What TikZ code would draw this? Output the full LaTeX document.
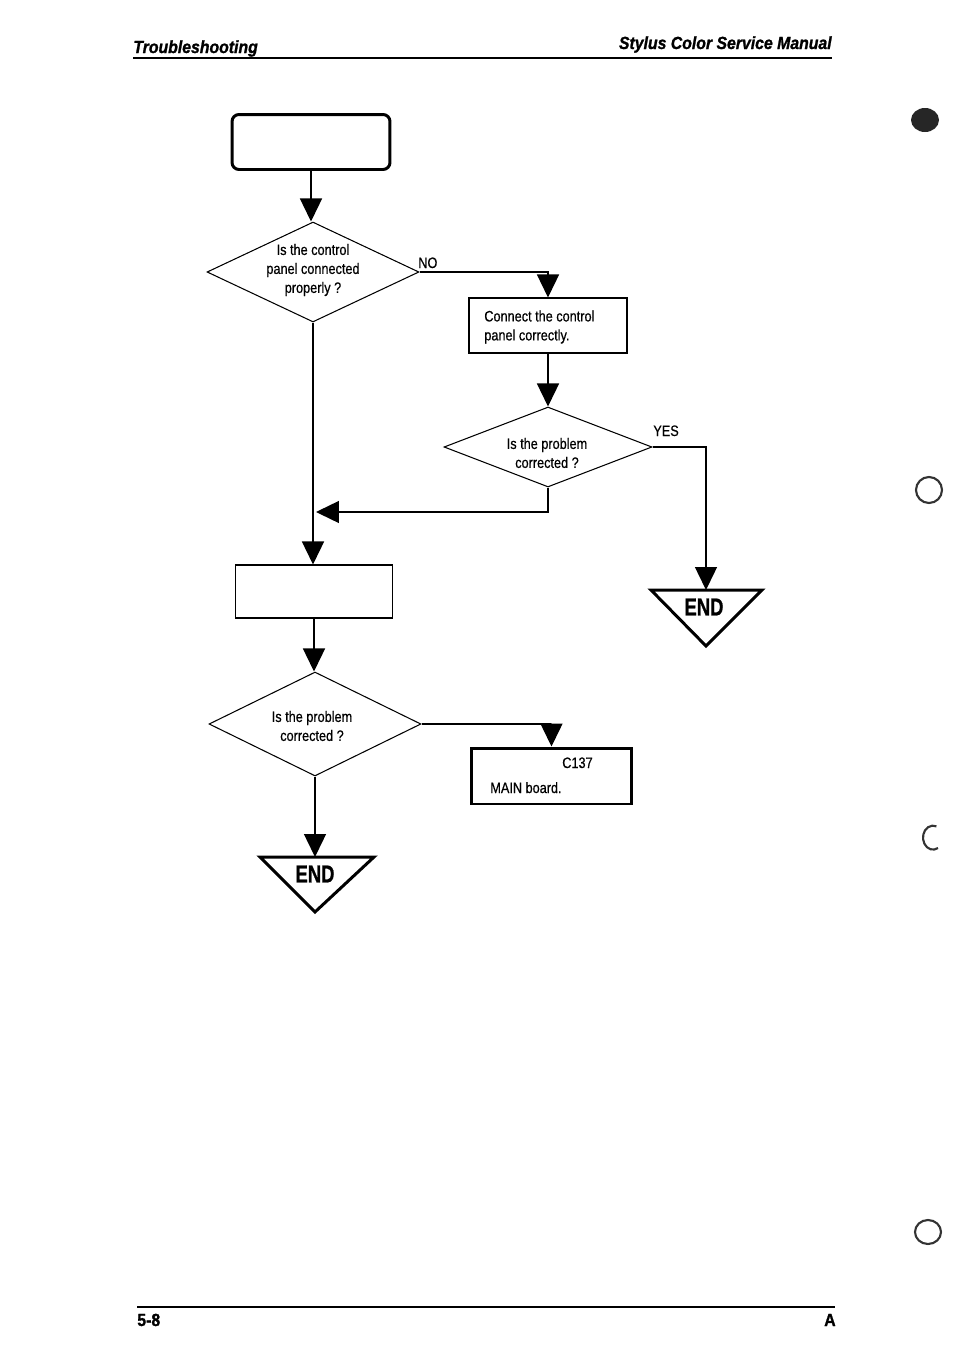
\documentclass[tikz,border=0pt]{standalone}
\usepackage{fontspec}
\setmainfont{Liberation Sans}
\newfontfamily\condf[FakeStretch=0.84,FakeBold=0.6]{Liberation Sans}
\newfontfamily\headf[FakeStretch=0.9,FakeBold=1.2,UprightFont=*,BoldFont=* Bold,ItalicFont=* Bold Italic]{Liberation Sans}
\newfontfamily\endf[FakeStretch=0.75,FakeBold=0.8]{Liberation Sans}
\usetikzlibrary{shapes.geometric,arrows.meta,calc}
\begin{document}
\begin{tikzpicture}[x=0.02cm,y=-0.02cm,
  conn/.style={line width=0.8pt},
  arr/.style={conn,-{Triangle[width=0.44cm,length=0.46cm]}},
  lbl/.style={font=\condf\fontsize{8.6}{10.8}\selectfont,inner sep=0pt,align=center},
  dia/.style={diamond,draw,line width=0.6pt,inner sep=0pt},
  thinbox/.style={draw,line width=0.6pt,inner sep=0pt},
  thickbox/.style={draw,line width=1.7pt,inner sep=0pt},
  endtri/.style={line width=1.7pt,line join=miter},
  endtxt/.style={font=\endf\bfseries\fontsize{14}{14}\selectfont,inner sep=0pt},
  hole/.style={line width=1.2pt,draw=black!80}
]
\useasboundingbox (0,0) rectangle (962,1356);
% header
\node[anchor=base west,inner sep=0pt,font=\headf\bfseries\itshape\fontsize{10}{12}\selectfont] (hl) at (133,53) {Troubleshooting};
\node[anchor=base east,inner sep=0pt,font=\headf\bfseries\itshape\fontsize{10}{12}\selectfont] (hr) at (832,49) {Stylus Color Service Manual};
\draw[line width=1.7pt] (133,58) -- (832,58);
% footer
\draw[line width=1.2pt] (137,1307) -- (835,1307);
\node[anchor=base west,inner sep=0pt,font=\headf\bfseries\fontsize{10}{12}\selectfont] (pg) at (137,1326) {5-8};
\node[anchor=base east,inner sep=0pt,font=\headf\bfseries\fontsize{10}{12}\selectfont] (rev) at (836,1326) {A};
% holes
\fill[black!85] (925,120) ellipse [x radius=14, y radius=12];
\draw[hole] (929,490) ellipse [x radius=13, y radius=13];
\draw[hole] (938,848) arc (60:290:10 and 12);
\draw[hole] (928,1232) ellipse [x radius=13, y radius=12];

% nodes
\node[thickbox,rounded corners=4pt,minimum width=3.16cm,minimum height=1.1cm] (start) at (311,142) {};
\node[dia,minimum width=4.24cm,minimum height=2.0cm] (d1) at (313,272) {};
\node[lbl] (d1t) at (313,270) {Is the control\\panel connected\\properly ?};
\node[thinbox,minimum width=3.16cm,minimum height=1.1cm] (b2) at (548,325.5) {};
\node[lbl,anchor=west,align=left] (b2t) at (484,327) {Connect the control\\panel correctly.};
\node[dia,minimum width=4.16cm,minimum height=1.6cm] (d2) at (548,447) {};
\node[lbl] (d2t) at (547,453) {Is the problem\\corrected ?};
\node[thinbox,minimum width=3.14cm,minimum height=1.06cm] (b3) at (314,591.5) {};
\node[dia,minimum width=4.24cm,minimum height=2.08cm] (d3) at (315,724) {};
\node[lbl] (d3t) at (312,726) {Is the problem\\corrected ?};
\node[thickbox,minimum width=3.22cm,minimum height=1.12cm] (b4) at (551.5,776) {};
\node[lbl,anchor=base east] (b4a) at (593,768) {C137};
\node[lbl,anchor=base west] (b4b) at (490,793) {MAIN board.};
\node[lbl,anchor=base west] (no) at (418,268) {NO};
\node[lbl,anchor=base west] (yes) at (653,436) {YES};

% END triangles
\draw[endtri] (651,590) -- (762,590) -- (706,646) -- cycle;
\coordinate (e1top) at (706,590);
\node[endtxt] (e1) at (704,607) {END};
\draw[endtri] (260,857) -- (374,857) -- (315,912) -- cycle;
\coordinate (e2top) at (315,857);
\node[endtxt] (e2) at (315,874) {END};

% connectors
\draw[arr] (start.south) -- (start.south |- d1.north);
\draw[arr] (d1.east) -| (b2.north);
\draw[arr] (b2.south) -- (b2.south |- d2.north);
\draw[arr] (d2.east) -| (e1top);
\coordinate (join) at (316,512);
\draw[arr] (d2.south) |- (join);
\draw[arr] (d1.south) -- (d1.south |- b3.north);
\draw[arr] (b3.south) -- (b3.south |- d3.north);
\draw[arr] (d3.east) -| (b4.north);
\draw[arr] (d3.south) -- (e2top);
\end{tikzpicture}
\end{document}
